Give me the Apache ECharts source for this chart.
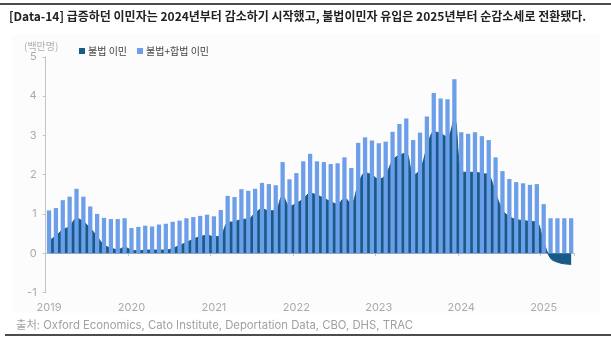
<!DOCTYPE html>
<html><head><meta charset="utf-8">
<script src="https://cdn.jsdelivr.net/npm/echarts@6/dist/echarts.min.js"></script>
<style>html,body{margin:0;padding:0;background:#fff}#c{width:611px;height:343px}</style>
</head><body><div id="c"></div>
<script>
var months = ['2019-01','2019-02','2019-03','2019-04','2019-05','2019-06','2019-07','2019-08','2019-09','2019-10','2019-11','2019-12',
'2020-01','2020-02','2020-03','2020-04','2020-05','2020-06','2020-07','2020-08','2020-09','2020-10','2020-11','2020-12',
'2021-01','2021-02','2021-03','2021-04','2021-05','2021-06','2021-07','2021-08','2021-09','2021-10','2021-11','2021-12',
'2022-01','2022-02','2022-03','2022-04','2022-05','2022-06','2022-07','2022-08','2022-09','2022-10','2022-11','2022-12',
'2023-01','2023-02','2023-03','2023-04','2023-05','2023-06','2023-07','2023-08','2023-09','2023-10','2023-11','2023-12',
'2024-01','2024-02','2024-03','2024-04','2024-05','2024-06','2024-07','2024-08','2024-09','2024-10','2024-11','2024-12',
'2025-01','2025-02','2025-03','2025-04','2025-05'];
var illegal = [0.32,0.44,0.60,0.68,0.89,0.80,0.64,0.42,0.21,0.13,0.09,0.15,
0.08,0.06,0.08,0.08,0.08,0.08,0.12,0.20,0.27,0.36,0.42,0.46,
0.42,0.45,0.78,0.80,0.86,0.87,1.02,1.13,1.08,1.10,1.46,1.19,
1.27,1.38,1.53,1.48,1.40,1.31,1.25,1.40,1.27,1.74,2.05,1.99,
1.88,1.99,2.36,2.50,2.54,1.99,2.12,2.67,3.09,3.05,2.95,3.43,
2.08,2.06,2.06,2.03,1.99,1.53,1.10,0.93,0.86,0.83,0.81,0.79,
0.28,-0.13,-0.23,-0.27,-0.29];
var total = [1.09,1.15,1.35,1.44,1.64,1.44,1.19,1.00,0.90,0.87,0.87,0.89,
0.64,0.67,0.70,0.68,0.73,0.75,0.80,0.83,0.89,0.92,0.95,0.98,
0.94,1.10,1.46,1.43,1.63,1.59,1.64,1.79,1.76,1.73,2.32,1.88,
2.04,2.34,2.53,2.34,2.32,2.27,2.29,2.44,2.17,2.81,2.95,2.87,
2.80,2.84,3.09,3.29,3.43,2.88,3.07,3.48,4.08,3.94,3.92,4.43,
3.08,3.04,3.08,2.98,2.88,2.44,2.09,1.89,1.81,1.78,1.74,1.76,
1.25,0.89,0.89,0.89,0.89];
var seriesNames = ['불법 이민','불법+합법 이민'];
var titleText = '[Data-14] 급증하던 이민자는 2024년부터 감소하기 시작했고, 불법이민자 유입은 2025년부터 순감소세로 전환됐다.';
var unitText = '(백만명)';
var sourceText = '출처: Oxford Economics, Cato Institute, Deportation Data, CBO, DHS, TRAC';

var FONT = 'Inter, "Noto Sans CJK KR", sans-serif';
var KFONT = '"Noto Sans CJK KR", sans-serif';
var chart = echarts.init(document.getElementById('c'), null, {renderer:'canvas'});
var yearTick = function(i){ return i % 12 === 0; };
chart.setOption({
  animation:false,
  textStyle:{fontFamily:FONT},
  graphic:[
    {type:'rect', shape:{x:12,y:34,width:588,height:279}, style:{fill:'#fcfcfc'}, z:-10, silent:true},
    {type:'line', shape:{x1:0,y1:4,x2:611,y2:4}, style:{stroke:'#111',lineWidth:1.5}},
    {type:'line', shape:{x1:5,y1:335,x2:611,y2:335}, style:{stroke:'#111',lineWidth:1.5}},
    {type:'text', left:9, top:10, style:{text:titleText, font:'bold 12px '+KFONT, fill:'#222'}},
    {type:'text', left:24, top:41, style:{text:unitText, font:'10px '+KFONT, fill:'#b0b0b0'}},
    {type:'text', left:16, top:320, style:{text:sourceText, font:'11.3px '+FONT, fill:'#a0a0a0'}}
  ],
  legend:{
    left:74, top:41, itemWidth:6, itemHeight:6, itemGap:10, icon:'rect',
    textStyle:{fontSize:10, color:'#444', fontFamily:KFONT, padding:[0,0,0,-2]},
    data:seriesNames
  },
  grid:{left:45.6, right:36.4, top:56.8, bottom:50.5, containLabel:false, outerBoundsMode:'none'},
  xAxis:{
    type:'category', data:months, boundaryGap:true,
    axisLine:{onZero:true, lineStyle:{color:'#c4c4c4', width:1}},
    axisTick:{show:true, interval:yearTick, length:3, lineStyle:{color:'#c4c4c4'}},
    axisLabel:{interval:yearTick, margin:10, color:'#aaaaaa', fontSize:11, fontFamily:FONT,
      formatter:function(v){return v.slice(0,4);}}
  },
  yAxis:{
    type:'value', min:-1, max:5, interval:1,
    axisLine:{show:true, lineStyle:{color:'#c4c4c4'}},
    axisTick:{show:true, length:3, lineStyle:{color:'#c4c4c4'}},
    splitLine:{show:false},
    axisLabel:{color:'#aaaaaa', fontSize:11, margin:9, fontFamily:FONT}
  },
  series:[
    {name:seriesNames[0], type:'line', data:illegal, smooth:0.35, showSymbol:false, symbol:'none',
     itemStyle:{color:'#175b86'}, lineStyle:{width:1, color:'#175b86'}, areaStyle:{color:'#175b86', opacity:1}, z:1},
    {name:seriesNames[1], type:'bar', data:total, barWidth:'62%', itemStyle:{color:'#6d9eea'}, z:3}
  ]
});
</script></body></html>
